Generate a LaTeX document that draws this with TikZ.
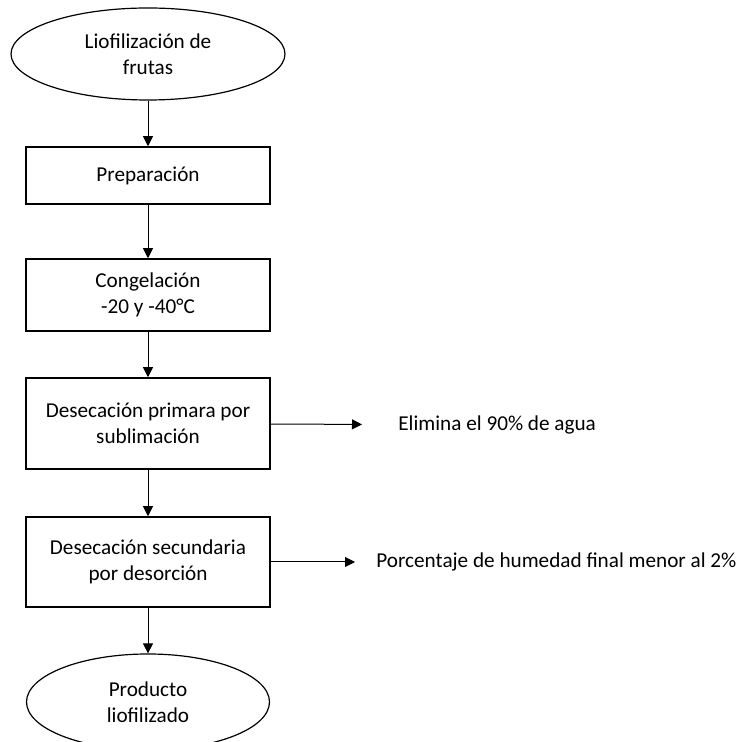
\documentclass[tikz,border=0pt]{standalone}
\usepackage{fontspec}
\setmainfont{Carlito}
\usepackage{tikz}
\usetikzlibrary{shapes.geometric,arrows.meta}

\begin{document}
\begin{tikzpicture}[x=0.5pt,y=-0.5pt,
		font=\fontsize{10.6pt}{13.2pt}\selectfont,
		caja/.style={draw,line width=0.75pt,minimum width=122pt,align=center,inner sep=2pt},
		elipse/.style={ellipse,draw,line width=0.6pt,align=center,inner sep=0pt},
		flecha/.style={-{Triangle[length=5pt,width=5pt]},line width=0.5pt}]
			\useasboundingbox (0,0) rectangle (746,742);
			
			% etapas del proceso
			\node[elipse,minimum width=137pt,minimum height=46pt] (inicio) at (148,54) {Liofilización de\\frutas};
			\node[caja,minimum height=28.5pt] (prep) at (148,175.5) {Preparación};
			\node[caja,minimum height=36pt] (cong) at (148,295) {Congelación\\-20 y -40°C};
			\node[caja,minimum height=45.5pt] (prim) at (148,423.5) {Desecación primara por\\sublimación};
			\node[caja,minimum height=45pt] (sec) at (148,562) {Desecación secundaria\\por desorción};
			\node[elipse,minimum width=121.5pt,minimum height=48pt] (fin) at (148,702) {Producto\\liofilizado};
			
			% notas laterales
			\node[anchor=west,inner xsep=0pt] (nota1) at (398,425) {Elimina el 90\% de agua};
			\node[anchor=west,inner xsep=0pt] (nota2) at (376,562) {Porcentaje de humedad final menor al 2\%};
			
			\draw[flecha] (inicio) -- (prep);
			\draw[flecha] (prep) -- (cong);
			\draw[flecha] (cong) -- (prim);
			\draw[flecha] (prim) -- (sec);
			\draw[flecha] (sec) -- (fin);
			
			\draw[flecha,shorten >=18pt] (prim) -- (nota1);
			\draw[flecha,shorten >=10.5pt] (sec) -- (nota2);
		\end{tikzpicture}
\end{document}
